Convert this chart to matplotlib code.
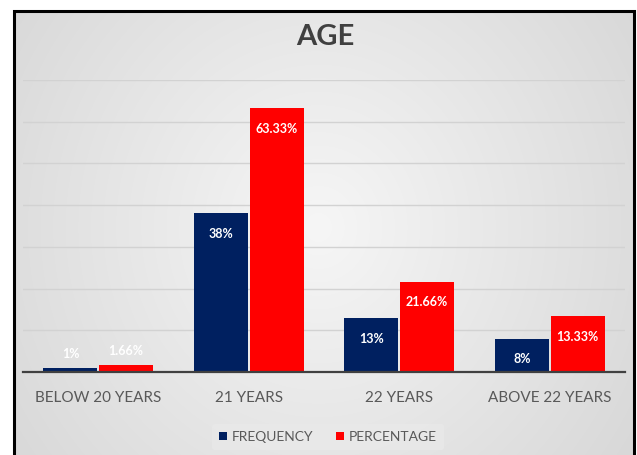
#!/usr/bin/env python3
"""Grouped bar chart of respondent age: frequency vs percentage."""

import numpy as np
import matplotlib

matplotlib.use("Agg")
import matplotlib.pyplot as plt
from matplotlib.patches import Rectangle

CATEGORIES = ["BELOW 20 YEARS", "21 YEARS", "22 YEARS", "ABOVE 22 YEARS"]
FREQUENCY = [1, 38, 13, 8]
PERCENTAGE = [1.66, 63.33, 21.66, 13.33]
FREQUENCY_LABELS = ["1%", "38%", "13%", "8%"]
PERCENTAGE_LABELS = ["1.66%", "63.33%", "21.66%", "13.33%"]

NAVY = "#002060"
RED = "#ff0000"
TEXT_GRAY = "#595959"

plt.rcParams["font.family"] = ["Lato", "DejaVu Sans"]


def _background(fig):
    # soft radial gradient like the Office chart style
    bg = fig.add_axes([0, 0, 1, 1], zorder=-10)
    yy, xx = np.mgrid[-1:1:300j, -1:1:400j]
    r = np.sqrt((xx * 0.9) ** 2 + (yy * 0.6) ** 2)
    shade = 0.965 - 0.11 * np.clip(r, 0, 1.2)
    img = np.dstack([shade, shade, shade])
    bg.imshow(img, extent=[0, 1, 0, 1], aspect="auto", interpolation="bilinear")
    bg.set_xlim(0, 1)
    bg.set_ylim(0, 1)
    bg.axis("off")
    # white margin and black frame
    W, H = 637, 455
    x0, y0, x1 = 14 / W, 0.0, 634 / W
    y1 = 1 - 11 / H
    for rect in [(0, 0, x0, 1), (x1, 0, 1 - x1, 1), (0, y1, 1, 1 - y1)]:
        bg.add_patch(Rectangle(rect[:2], rect[2], rect[3], transform=bg.transAxes,
                               facecolor="white", edgecolor="none", zorder=2))
    bg.plot([x0, x0, x1, x1], [y0, y1, y1, y0], color="black", lw=2.2,
            transform=bg.transAxes, zorder=3, solid_joinstyle="miter")


def main() -> None:
    fig = plt.figure(figsize=(6.37, 4.55), dpi=100)
    _background(fig)

    ax = fig.add_axes([23 / 637, 1 - 372 / 455, 602 / 637, 292 / 455])
    ax.patch.set_visible(False)

    x = np.arange(len(CATEGORIES))
    width = 0.36
    offset = 0.185

    b1 = ax.bar(x - offset, FREQUENCY, width, color=NAVY, label="FREQUENCY", zorder=3)
    b2 = ax.bar(x + offset, PERCENTAGE, width, color=RED, label="PERCENTAGE", zorder=3)

    for bars, labels in [(b1, FREQUENCY_LABELS), (b2, PERCENTAGE_LABELS)]:
        for bar, text in zip(bars, labels):
            h = bar.get_height()
            dy = -15 if h > 5 else 10
            ax.annotate(text, (bar.get_x() + bar.get_width() / 2, h),
                        xytext=(0, dy), textcoords="offset points",
                        ha="center", va="center", color="white",
                        fontsize=9, fontweight="bold", zorder=4)

    ax.set_xlim(-0.5, len(CATEGORIES) - 0.5)
    ax.set_ylim(0, 70)
    ax.set_yticks(np.arange(10, 71, 10))
    ax.yaxis.grid(True, color="#d2d2d2", lw=1)
    ax.set_axisbelow(True)
    ax.tick_params(axis="y", left=False, labelleft=False)
    ax.tick_params(axis="x", length=0, pad=14, labelsize=11, labelcolor=TEXT_GRAY)
    ax.set_xticks(x)
    ax.set_xticklabels(CATEGORIES)
    for side in ["top", "right", "left"]:
        ax.spines[side].set_visible(False)
    ax.spines["bottom"].set_color("#404040")
    ax.spines["bottom"].set_linewidth(1.6)
    ax.spines["bottom"].set_zorder(5)

    fig.text(325 / 637, 1 - 37 / 455, "AGE", ha="center", va="center",
             fontsize=21, fontweight="bold", color="#404040")

    leg = fig.legend(handles=[b1, b2], loc="center", bbox_to_anchor=(328 / 637, 1 - 437 / 455),
                     ncol=2, frameon=True, fontsize=10, handlelength=0.55, handleheight=0.55,
                     handletextpad=0.4, columnspacing=1.6, borderpad=0.5)
    leg.get_frame().set_facecolor("#e9e9e9")
    leg.get_frame().set_edgecolor("none")
    for t in leg.get_texts():
        t.set_color(TEXT_GRAY)

    fig.savefig("out.png", dpi=100)
    plt.close(fig)


if __name__ == "__main__":
    main()
